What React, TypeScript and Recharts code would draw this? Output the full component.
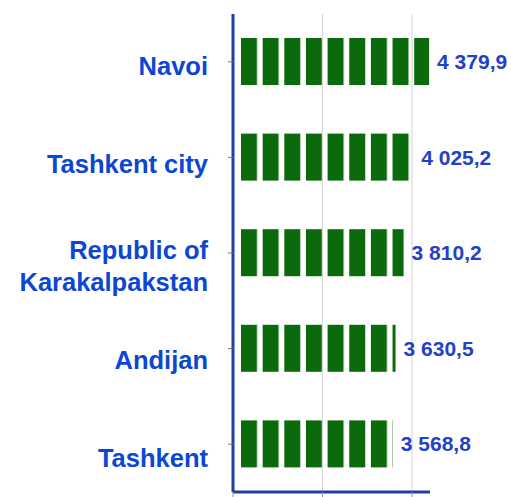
import { BarChart, Bar, XAxis, YAxis, ReferenceLine, LabelList } from "recharts";

const regions = ["Navoi", "Tashkent city", "Republic of\nKarakalpakstan", "Andijan", "Tashkent"];
const values = [4379.9, 4025.2, 3810.2, 3630.5, 3568.8];
const xTicks = [0, 2000, 4000];
const gridAt = [2000, 4000];

const data = regions.map((region, i) => ({ region, value: values[i] }));

const FONT = '"Liberation Sans", Arial, sans-serif';
const AXIS_BLUE = "#1f3ea0";

function formatValue(v: number) {
  const [int, dec] = v.toFixed(1).split(".");
  return int.replace(/\B(?=(\d{3})+(?!\d))/g, " ") + "," + dec;
}

function RegionTick(props: any) {
  const { x, y, payload, index } = props;
  const lines = String(payload.value).split("\n");
  // labels sit a bit lower on each row in the original
  const base = 13 + index * 2.5 - (lines.length - 1) * 12;
  return (
    <g>
      {lines.map((line, i) => (
        <text
          key={i}
          x={x}
          y={y + base + i * 32}
          textAnchor="end"
          fill="#0b47d4"
          fontSize={25.5}
          fontWeight="bold"
          fontFamily={FONT}
        >
          {line}
        </text>
      ))}
    </g>
  );
}

function SegmentBar(props: any) {
  const { x, y, width, height } = props;
  const start = x + 8;
  return (
    <rect
      x={start}
      y={y}
      width={Math.max(0, x + width - start)}
      height={height}
      fill="url(#segments)"
    />
  );
}

export default function App() {
  return (
    <div style={{ position: "absolute", left: 0, top: 0, background: "#fff" }}>
      <BarChart
        width={511}
        height={497}
        data={data}
        layout="vertical"
        margin={{ top: 14, right: 81, bottom: 0, left: 0 }}
        barSize={47}
      >
        <defs>
          <pattern
            id="segments"
            patternUnits="userSpaceOnUse"
            x={241}
            y={0}
            width={21.65}
            height={497}
          >
            <rect x={0} y={0} width={16} height={497} fill="#0b6a0b" />
          </pattern>
        </defs>
        {gridAt.map((g) => (
          <ReferenceLine key={g} x={g} stroke="#d4d4d4" />
        ))}
        <XAxis
          type="number"
          domain={[0, 4400]}
          ticks={xTicks}
          height={5}
          tickSize={5}
          tick={() => <g />}
          axisLine={{ stroke: AXIS_BLUE, strokeWidth: 3 }}
          tickLine={{ stroke: "#8a8fb0" }}
        />
        <YAxis
          type="category"
          dataKey="region"
          width={233}
          tickSize={5}
          tickMargin={20}
          tick={<RegionTick />}
          axisLine={{ stroke: AXIS_BLUE, strokeWidth: 3 }}
          tickLine={{ stroke: "#777" }}
        />
        <Bar dataKey="value" shape={<SegmentBar />} isAnimationActive={false}>
          <LabelList
            dataKey="value"
            position="right"
            offset={8}
            formatter={(v: any) => formatValue(Number(v))}
            fill="#2340c8"
            fontSize={21}
            fontWeight="bold"
            fontFamily={FONT}
          />
        </Bar>
      </BarChart>
    </div>
  );
}
